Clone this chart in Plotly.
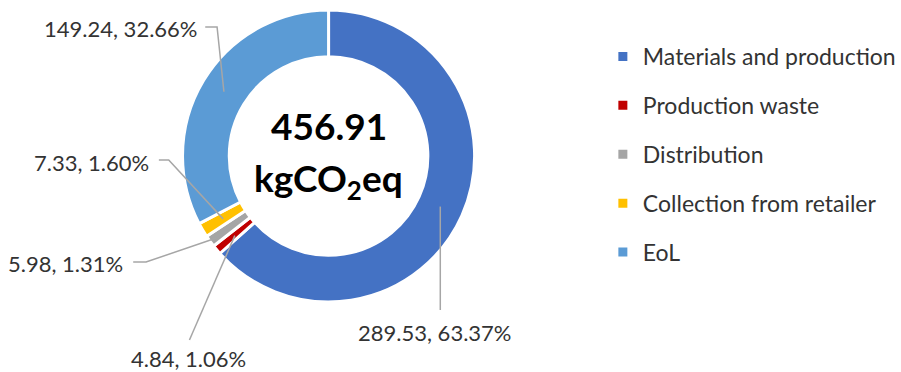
import numpy as np
import plotly.graph_objects as go

# Life-cycle stages and their emissions (kgCO2eq)
stages = ["Materials and production", "Production waste", "Distribution",
          "Collection from retailer", "EoL"]
emissions = [289.53, 4.84, 5.98, 7.33, 149.24]
shares = [63.37, 1.06, 1.31, 1.60, 32.66]
total_label = "456.91"
colors = ["#4472C4", "#C00000", "#A5A5A5", "#FFC000", "#5B9BD5"]

W, H = 901, 372
FONT = "Lato"

# Donut placement in pixels
cx, cy, R = 333, 156, 148
hole = 0.68


def px(x, y):
    return x / W, 1 - y / H


fig = go.Figure()
fig.add_trace(go.Pie(
    labels=stages, values=emissions, sort=False, direction="clockwise",
    rotation=0, hole=hole, textinfo="none", hoverinfo="label+value+percent",
    marker=dict(colors=colors, line=dict(color="white", width=3)),
    domain=dict(x=[(cx - R) / W, (cx + R) / W], y=[1 - (cy + R) / H, 1 - (cy - R) / H]),
    showlegend=False,
))

# Legend entries as marker-only traces, one group each for even spacing
for name, col in zip(stages, colors):
    fig.add_trace(go.Scatter(
        x=[None], y=[None], mode="markers", name=name, legendgroup=name,
        marker=dict(symbol="square", size=9, color=col),
    ))

# Slice mid-angles (clockwise from 12 o'clock) from the data
vals = np.array(emissions, dtype=float)
frac = vals / vals.sum()
mid = (np.cumsum(frac) - frac / 2) * 2 * np.pi

# Leader-line anchor radius in the ring and label placement per slice
anchor_r = [124, 124, 141, 124, 124]
label_cfg = [
    dict(x=440, y=332, xanchor="center", elbow=None, drop=310),
    dict(x=191, y=358, xanchor="center", elbow=[(192, 340)], drop=None),
    dict(x=127, y=263, xanchor="right", elbow=[(135, 262), (148, 262)], drop=None),
    dict(x=153, y=162, xanchor="right", elbow=[(161, 160), (171, 160)], drop=None),
    dict(x=202, y=28, xanchor="right", elbow=[(208, 27), (220, 27)], drop=None),
]

shapes = []
annotations = []
for i, cfg in enumerate(label_cfg):
    ax = cx + anchor_r[i] * np.sin(mid[i])
    ay = cy - anchor_r[i] * np.cos(mid[i])
    if cfg["drop"] is not None:
        pts = [(ax, cfg["drop"]), (ax, ay)]
    else:
        pts = list(cfg["elbow"]) + [(ax, ay)]
    path = ""
    for k, (x, y) in enumerate(pts):
        u, v = px(x, y)
        path += ("M" if k == 0 else "L") + f"{u},{v} "
    shapes.append(dict(type="path", path=path.strip(), xref="paper", yref="paper",
                       line=dict(color="#A6A6A6", width=1.5)))
    tx, ty = px(cfg["x"], cfg["y"])
    annotations.append(dict(
        x=tx, y=ty, xref="paper", yref="paper", showarrow=False,
        xanchor=cfg["xanchor"], yanchor="middle",
        text=f"{emissions[i]:.2f}, {shares[i]:.2f}%",
        font=dict(family=FONT, size=22, color="#333333"),
    ))

# Total in the middle of the donut
ux, uy = px(cx, 126)
annotations.append(dict(x=ux, y=uy, xref="paper", yref="paper", showarrow=False,
                        xanchor="center", yanchor="middle", text=f"<b>{total_label}</b>",
                        font=dict(family=FONT, size=37, color="#000000")))
ux, uy = px(cx, 180)
annotations.append(dict(x=ux, y=uy, xref="paper", yref="paper", showarrow=False,
                        xanchor="center", yanchor="middle",
                        text="<b>kgCO<sub>2</sub>eq</b>",
                        font=dict(family=FONT, size=37, color="#000000")))

fig.update_layout(
    width=W, height=H, margin=dict(l=0, r=0, t=0, b=0),
    paper_bgcolor="white", plot_bgcolor="white",
    xaxis=dict(visible=False), yaxis=dict(visible=False),
    shapes=shapes, annotations=annotations,
    legend=dict(x=611 / W, y=1 - 35 / H, xanchor="left", yanchor="top",
                font=dict(family=FONT, size=23, color="#333333"),
                tracegroupgap=16, itemclick=False, itemdoubleclick=False,
                bgcolor="rgba(0,0,0,0)"),
    showlegend=True,
)

fig.write_html("out.html")
